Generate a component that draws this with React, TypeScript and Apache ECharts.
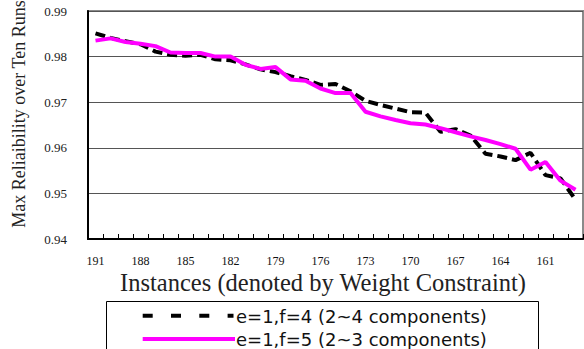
import React, { useEffect, useRef } from "react";
import * as echarts from "echarts";

const categories = [
  "191", "190", "189", "188", "187", "186", "185", "184", "183", "182", "181",
  "180", "179", "178", "177", "176", "175", "174", "173", "172", "171", "170",
  "169", "168", "167", "166", "165", "164", "163", "162", "161", "160", "159",
];

const seriesF4 = [
  0.9851, 0.9841, 0.9834, 0.9827, 0.9811, 0.9804, 0.9802, 0.9804, 0.9794, 0.9792, 0.9783,
  0.9772, 0.9766, 0.9757, 0.9749, 0.9738, 0.974, 0.9724, 0.9703, 0.9694, 0.9686, 0.9678,
  0.9677, 0.9635, 0.9641, 0.9627, 0.9587, 0.9581, 0.9573, 0.9589, 0.954, 0.9533, 0.9486,
];

const seriesF5 = [
  0.9835, 0.984, 0.9832, 0.9828, 0.9823, 0.9809, 0.9808, 0.9808, 0.98, 0.98, 0.9782,
  0.9773, 0.9777, 0.975, 0.9747, 0.973, 0.972, 0.972, 0.9679, 0.9669, 0.9661, 0.9654,
  0.9651, 0.9643, 0.9634, 0.9625, 0.9617, 0.9608, 0.9598, 0.9552, 0.9569, 0.9528, 0.9508,
];

const seriesNames = ["e=1,f=4 (2~4 components)", "e=1,f=5 (2~3 components)"];
const yTitle = "Max Reliaibility over Ten Runs";
const xTitle = "Instances (denoted by Weight Constraint)";

export default function App() {
  const ref = useRef<HTMLDivElement>(null);
  useEffect(() => {
    if (!ref.current) return;
    const chart = echarts.init(ref.current, null, { renderer: "svg" });
    const serif = "'Liberation Serif', 'Times New Roman', serif";
    const sans = "'DejaVu Sans', sans-serif";
    chart.setOption({
      animation: false,
      backgroundColor: "#ffffff",
      grid: {
        left: 88,
        right: 1,
        top: 11,
        bottom: 110,
        show: true,
        borderColor: "#8a8a8a",
        borderWidth: 2,
      },
      xAxis: {
        type: "category",
        data: categories,
        boundaryGap: true,
        axisLine: { lineStyle: { color: "#000", width: 2 } },
        axisTick: { show: true, inside: true, length: 5, interval: 0, lineStyle: { color: "#000", width: 1 } },
        axisLabel: {
          interval: 2,
          margin: 16,
          fontFamily: serif,
          fontSize: 12,
          color: "#111",
        },
        splitLine: { show: false },
      },
      yAxis: {
        type: "value",
        min: 0.94,
        max: 0.99,
        interval: 0.01,
        axisLine: { show: true, lineStyle: { color: "#000", width: 2 } },
        axisTick: { show: false },
        axisLabel: {
          margin: 21,
          fontFamily: serif,
          fontSize: 13,
          color: "#222",
          formatter: (v: number) => v.toFixed(2),
        },
        splitLine: { show: true, lineStyle: { color: "#555", width: 1 } },
      },
      series: [
        {
          name: seriesNames[0],
          type: "line",
          data: seriesF4,
          symbol: "none",
          lineStyle: { color: "#000", width: 4, type: [10, 5] },
          z: 2,
        },
        {
          name: seriesNames[1],
          type: "line",
          data: seriesF5,
          symbol: "none",
          lineStyle: { color: "#ff00ff", width: 4 },
          z: 3,
        },
      ],
      graphic: [
        {
          type: "text",
          x: 19,
          y: 114,
          rotation: Math.PI / 2,
          style: {
            text: yTitle,
            font: `18px ${serif}`,
            fill: "#222",
            align: "center",
            verticalAlign: "middle",
          },
        },
        {
          type: "text",
          x: 323,
          y: 282,
          style: {
            text: xTitle,
            font: `24.5px ${serif}`,
            fill: "#222",
            align: "center",
            verticalAlign: "middle",
          },
        },
        {
          type: "rect",
          shape: { x: 106.5, y: 301.5, width: 432, height: 60 },
          style: { fill: "#fff", stroke: "#000", lineWidth: 1 },
        },
        {
          type: "line",
          shape: { x1: 142.7, y1: 315.7, x2: 233.5, y2: 315.7 },
          style: { stroke: "#000", lineWidth: 4, lineDash: [10, 18.3] },
        },
        {
          type: "text",
          x: 236,
          y: 316,
          style: {
            text: seriesNames[0],
            font: `18px ${sans}`,
            fill: "#111",
            align: "left",
            verticalAlign: "middle",
          },
        },
        {
          type: "line",
          shape: { x1: 142.7, y1: 339, x2: 235, y2: 339 },
          style: { stroke: "#ff00ff", lineWidth: 4 },
        },
        {
          type: "text",
          x: 236,
          y: 339,
          style: {
            text: seriesNames[1],
            font: `18px ${sans}`,
            fill: "#111",
            align: "left",
            verticalAlign: "middle",
          },
        },
      ],
    });
    return () => chart.dispose();
  }, []);
  return (
    <div
      ref={ref}
      style={{ position: "fixed", left: 0, top: 0, width: 584, height: 349 }}
    />
  );
}
